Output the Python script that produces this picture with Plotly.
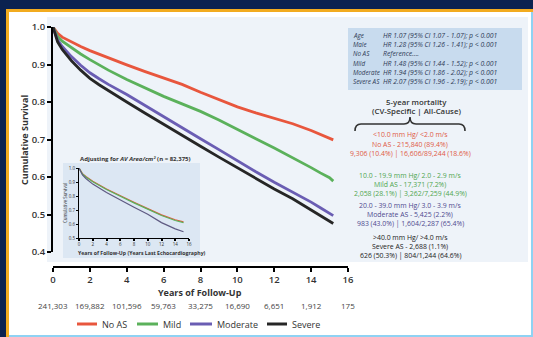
import plotly.graph_objects as go

W, H = 533, 337


def fx(p):
    return p / W


def fy(p):
    return 1 - p / H


FONT = "Open Sans"

# ---------------- data ----------------
years = [0, 0.25, 0.5, 1, 1.5, 2, 2.5, 3, 4, 5, 6, 7, 8, 9, 10, 11, 12, 13, 14, 14.5, 15, 15.2]
surv_no_as = [1.0, 0.983, 0.973, 0.960, 0.948, 0.937, 0.927, 0.918, 0.899, 0.881, 0.865, 0.847,
              0.826, 0.806, 0.787, 0.771, 0.756, 0.742, 0.724, 0.713, 0.703, 0.699]
surv_mild = [1.0, 0.975, 0.962, 0.944, 0.928, 0.913, 0.898, 0.885, 0.860, 0.837, 0.815, 0.795,
             0.775, 0.752, 0.726, 0.702, 0.677, 0.652, 0.625, 0.611, 0.598, 0.589]
surv_moderate = [1.0, 0.965, 0.948, 0.921, 0.898, 0.878, 0.862, 0.847, 0.820, 0.790, 0.760, 0.731,
                 0.702, 0.673, 0.643, 0.614, 0.586, 0.560, 0.533, 0.518, 0.503, 0.497]
surv_severe = [1.0, 0.960, 0.940, 0.910, 0.885, 0.863, 0.846, 0.830, 0.800, 0.770, 0.740, 0.710,
               0.682, 0.653, 0.624, 0.596, 0.568, 0.542, 0.512, 0.497, 0.482, 0.476]

series_names = ["No AS", "Mild", "Moderate", "Severe"]
series_colors = ["#e8563d", "#5bb15b", "#6a5db3", "#262626"]

risk_years = [0, 2, 4, 6, 8, 10, 12, 14, 16]
at_risk = [241303, 169882, 101596, 59763, 33275, 16690, 6651, 1912, 175]

inset_years = [0, 0.5, 1, 2, 4, 6, 8, 10, 12, 14, 15.2]
inset_no_as = [1.0, 0.960, 0.940, 0.905, 0.850, 0.800, 0.755, 0.710, 0.665, 0.630, 0.615]
inset_mild = [1.0, 0.957, 0.936, 0.901, 0.846, 0.796, 0.751, 0.706, 0.661, 0.625, 0.610]
inset_adj_low = [1.0, 0.950, 0.925, 0.885, 0.825, 0.770, 0.720, 0.670, 0.610, 0.565, 0.545]

hr_labels = ["Age", "Male", "No AS", "Mild", "Moderate", "Severe AS"]
hr_texts = ["HR 1.07 (95% CI 1.07 - 1.07); p < 0.001",
            "HR 1.28 (95% CI 1.26 - 1.41); p < 0.001",
            "Reference....",
            "HR 1.48 (95% CI 1.44 - 1.52); p < 0.001",
            "HR 1.94 (95% CI 1.86 - 2.02); p < 0.001",
            "HR 2.07 (95% CI 1.96 - 2.19); p < 0.001"]

grp_ranges = ["<10.0 mm Hg/ <2.0 m/s", "10.0 - 19.9 mm Hg/ 2.0 - 2.9 m/s",
              "20.0 - 39.0 mm Hg/ 3.0 - 3.9 m/s", ">40.0 mm Hg/ >4.0 m/s"]
grp_counts = ["No AS - 215,840 (89.4%)", "Mild AS - 17,371 (7.2%)",
              "Moderate AS - 5,425 (2.2%)", "Severe AS - 2,688 (1.1%)"]
grp_mortality = ["9,306 (10.4%) | 16,606/89,244 (18.6%)", "2,058 (28.1%) | 3,262/7,259 (44.9%)",
                 "983 (43.0%) | 1,604/2,287 (65.4%)", "626 (50.3%) | 804/1,244 (64.6%)"]
grp_colors = ["#e05a45", "#4fa64f", "#4e4a8f", "#222222"]

# ---------------- figure ----------------
fig = go.Figure()

for name, vals, col in zip(series_names, [surv_no_as, surv_mild, surv_moderate, surv_severe], series_colors):
    fig.add_trace(go.Scatter(x=years, y=vals, mode="lines", name=name, showlegend=False,
                             line=dict(color=col, width=2.8), xaxis="x", yaxis="y"))

for vals, col in zip([inset_no_as, inset_mild, inset_adj_low], ["#e8563d", "#5bb15b", "#5e5a82"]):
    fig.add_trace(go.Scatter(x=inset_years, y=vals, mode="lines", showlegend=False,
                             line=dict(color=col, width=1.2), xaxis="x2", yaxis="y2"))

shapes = [
    dict(type="rect", xref="paper", yref="paper", x0=fx(6), x1=1, y0=0, y1=fy(9),
         fillcolor="#f2ab1f", line_width=0, layer="below"),
    dict(type="rect", xref="paper", yref="paper", x0=fx(9), x1=1, y0=0, y1=fy(12),
         fillcolor="#8fd2f3", line_width=0, layer="below"),
    dict(type="rect", xref="paper", yref="paper", x0=fx(9), x1=fx(531), y0=fy(335), y1=fy(12),
         fillcolor="white", line_width=0, layer="below"),
    dict(type="rect", xref="paper", yref="paper", x0=fx(47), x1=fx(528), y0=fy(262), y1=fy(17),
         fillcolor="#eef3f9", line_width=0, layer="below"),
    dict(type="rect", xref="paper", yref="paper", x0=fx(348), x1=fx(522), y0=fy(90), y1=fy(28),
         fillcolor="#c8dbee", line_width=0, layer="below"),
    dict(type="rect", xref="paper", yref="paper", x0=fx(63), x1=fx(200), y0=fy(258), y1=fy(163),
         fillcolor="#dce7f3", line_width=0, layer="below"),
]


def P(x, y):
    return f"{fx(x):.5f},{fy(y):.5f}"


brace = ("M" + P(355, 131) + " Q" + P(355, 124) + " " + P(361, 124) + " L" + P(404, 124) +
         " Q" + P(410, 124) + " " + P(410, 117) + " Q" + P(410, 124) + " " + P(416, 124) +
         " L" + P(459, 124) + " Q" + P(465, 124) + " " + P(465, 131))
shapes.append(dict(type="path", xref="paper", yref="paper", path=brace,
                   line=dict(color="#333333", width=1.6)))

ann = []


def txt(x, y, text, size, color="#333", anchor="center", angle=0, weight=None, xref="paper"):
    f = dict(family=FONT, size=size, color=color)
    if weight:
        f["weight"] = weight
    ann.append(dict(xref=xref, yref="paper", x=x if xref != "paper" else fx(x), y=fy(y),
                    xanchor=anchor, yanchor="middle", text=text, showarrow=False,
                    textangle=angle, font=f))


# axis titles
txt(24, 140, "<b>Cumulative Survival</b>", 9, angle=-90)
txt(200, 292, "<b>Years of Follow-Up</b>", 9)
# numbers at risk
for yr, n in zip(risk_years, at_risk):
    txt(yr, 305, f"{n:,}", 8, color="#444", xref="x")
# legend (drawn as line samples + labels)
legend_line_x = [(77, 97), (137, 158), (190, 212), (267, 287)]
for name, col, (a, b) in zip(series_names, series_colors, legend_line_x):
    shapes.append(dict(type="line", xref="paper", yref="paper", x0=fx(a), x1=fx(b),
                       y0=fy(324), y1=fy(324), line=dict(color=col, width=3)))
    txt(b + 3, 324, name, 9, color="#333", anchor="left")
# HR box
for i, (lab, t) in enumerate(zip(hr_labels, hr_texts)):
    yy = 35 + i * 9.35
    txt(351, yy, f"<i>{lab}</i>", 6.3, color="#2e3a55", anchor="left")
    txt(381, yy, f"<i>{t}</i>", 6.8, color="#2e3a55", anchor="left")
# mortality header
txt(416, 101.5, "5-year mortality", 7.8, weight=600)
txt(416, 110.5, "(CV-Specific | All-Cause)", 7.8, weight=600)
grp_y = [(135, 144, 153), (175.5, 184.5, 193.5), (205.5, 214.5, 223.5), (237, 246, 255)]
for rng, cnt, mort, col, ys in zip(grp_ranges, grp_counts, grp_mortality, grp_colors, grp_y):
    for t, yy in zip([rng, cnt, mort], ys):
        txt(410, yy, t, 6.9, color=col)
# inset title and axis titles
txt(78, 159, "<b>Adjusting for <i>AV Area/cm²</i> (n = 82,375)</b>", 6, anchor="left")
txt(65, 203, "Cumulative Survival", 4.4, angle=-90)
txt(76, 253, "<b>Years of Follow-Up (Years Last Echocardiography)</b>", 5.2, anchor="left")

fig.update_layout(
    template="none",
    width=W, height=H,
    margin=dict(l=0, r=0, t=0, b=0, pad=0),
    autosize=False,
    paper_bgcolor="#0b2250",
    plot_bgcolor="rgba(0,0,0,0)",
    shapes=shapes,
    annotations=ann,
    font=dict(family=FONT),
    showlegend=False,
    xaxis=dict(domain=[fx(53), fx(348)], range=[0, 16], anchor="free", position=fy(267),
               showline=True, linecolor="black", linewidth=2, ticks="outside", ticklen=4,
               tickwidth=2, tickcolor="black", dtick=2, showgrid=False, zeroline=False,
               automargin=False,
               tickfont=dict(family=FONT, size=9.5, color="#333", weight=600)),
    yaxis=dict(domain=[fy(252), fy(27)], range=[0.4, 1.0], anchor="x",
               showline=True, linecolor="black", linewidth=2, ticks="outside", ticklen=4,
               tickwidth=2, tickcolor="black", dtick=0.1, tickformat=".1f", showgrid=False,
               zeroline=False, automargin=False,
               tickfont=dict(family=FONT, size=9.5, color="#333", weight=600)),
    xaxis2=dict(domain=[fx(79), fx(189)], range=[0, 16], anchor="y2",
                showline=True, linecolor="black", linewidth=1, ticks="outside", ticklen=2,
                tickwidth=1.5, tickcolor="black", dtick=2, showgrid=False, zeroline=False,
                automargin=False, tickfont=dict(family=FONT, size=4.5, color="#333")),
    yaxis2=dict(domain=[fy(238), fy(168)], range=[0.5, 1.0], anchor="x2",
                showline=True, linecolor="black", linewidth=1, ticks="outside", ticklen=2,
                tickwidth=1, tickcolor="black", dtick=0.1, tickformat=".1f", showgrid=False,
                zeroline=False, automargin=False, tickfont=dict(family=FONT, size=4.5, color="#333")),
)

fig.write_html("out.html", config={"displayModeBar": False},
               post_script="document.body.style.margin='0';")
